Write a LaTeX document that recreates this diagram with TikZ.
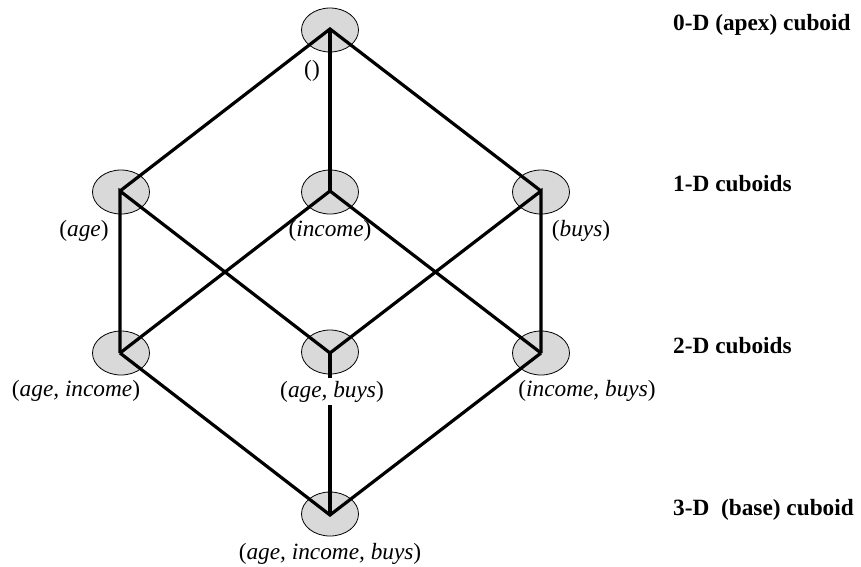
\documentclass[tikz,border=0pt]{standalone}
\usepackage{fontspec}
\setmainfont{Liberation Serif}
\usetikzlibrary{shapes.geometric}
\begin{document}
\begin{tikzpicture}[x=1pt,y=-1pt,
  cub/.style={ellipse,draw=black,line width=0.8pt,fill=black!15,minimum width=57pt,minimum height=44pt,inner sep=0pt},
  edge/.style={line width=3.2pt,line cap=butt},
  lab/.style={font=\fontsize{23.3}{28}\selectfont,inner sep=1pt,anchor=base},
  lvl/.style={font=\fontsize{23.3}{28}\selectfont\bfseries,inner sep=0pt,anchor=base west}]
\useasboundingbox (0,0) rectangle (861,566);
% cuboid nodes
\node[cub] (n0) at (330,30) {};
\node[cub] (na) at (121,192) {};
\node[cub] (ni) at (330,192) {};
\node[cub] (nb) at (541,192) {};
\node[cub] (nai) at (121,353) {};
\node[cub] (nab) at (330,352) {};
\node[cub] (nib) at (541,353) {};
\node[cub] (naib) at (330,514) {};
% vertex points
\coordinate (v0) at (330,29);
\coordinate (va) at (120,191);
\coordinate (vi) at (330,191);
\coordinate (vb) at (541,191);
\coordinate (vai) at (120,353);
\coordinate (vab) at (330,353);
\coordinate (vib) at (541,353);
\coordinate (vaib) at (330,515);
% connectors
\draw[edge] (va) -- (v0) -- (vb);
\draw[edge] (v0) -- (vi);
\draw[edge] (vai) -- (va) -- (vab);
\draw[edge] (vai) -- (vi) -- (vib);
\draw[edge] (vab) -- (vb) -- (vib);
\draw[edge] (vai) -- (vaib) -- (vib);
\draw[edge] (vab) -- (vaib);
% labels
\node[lab] (l0) at (312,76) {()};
\node[lab] (la) at (84,236) {(\textit{age})};
\node[lab] (li) at (330,236) {(\textit{income})};
\node[lab] (lb) at (581,236) {(\textit{buys})};
\node[lab] (lai) at (76,396) {(\textit{age, income})};
\node[lab,fill=white,inner ysep=3pt] (lab) at (332,397) {(\textit{age, buys})};
\node[lab] (lib) at (587,396) {(\textit{income, buys})};
\node[lab] (laib) at (330,559) {(\textit{age, income, buys})};
% level labels
\node[lvl] (t0) at (673,30) {0-D (apex) cuboid};
\node[lvl] (t1) at (673,191) {1-D cuboids};
\node[lvl] (t2) at (673,353) {2-D cuboids};
\node[lvl] (t3) at (673,515) {3-D\ \ (base) cuboid};
\end{tikzpicture}
\end{document}
